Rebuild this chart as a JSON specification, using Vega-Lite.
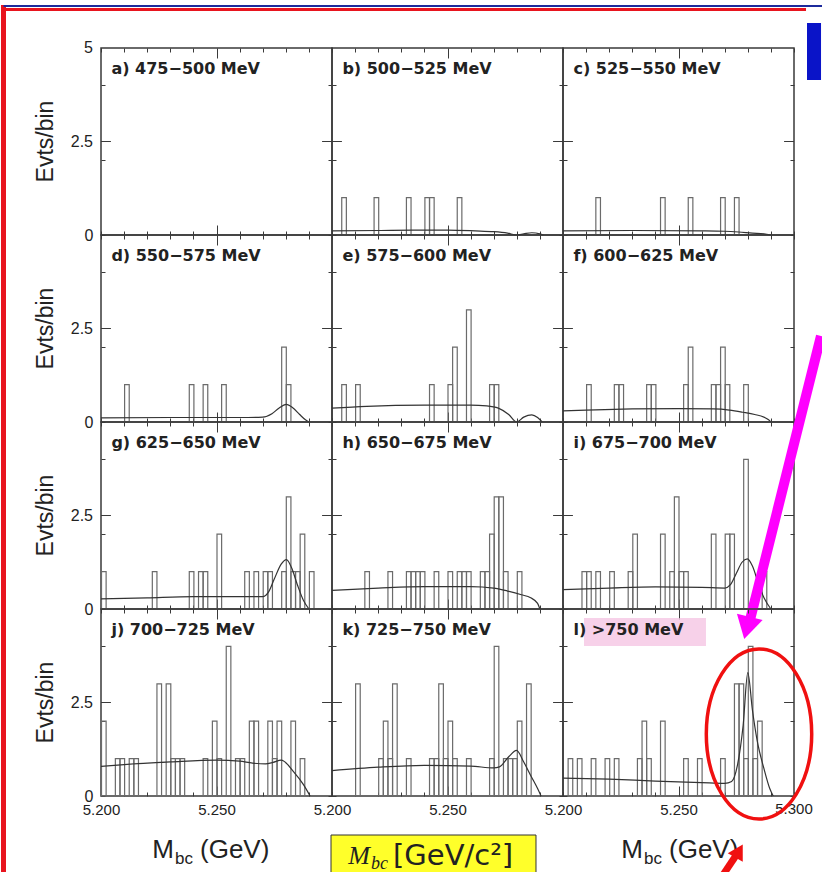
{
"$schema": "https://vega.github.io/schema/vega-lite/v6.json",
"padding": 0,
"autosize": {"type": "pad"},
"background": "white",
"data": {"values": [
{"p":"a","k":"t","lab":"a) 475−500 MeV"},
{"p":"b","k":"t","lab":"b) 500−525 MeV"},
{"p":"c","k":"t","lab":"c) 525−550 MeV"},
{"p":"d","k":"t","lab":"d) 550−575 MeV"},
{"p":"e","k":"t","lab":"e) 575−600 MeV"},
{"p":"f","k":"t","lab":"f) 600−625 MeV"},
{"p":"g","k":"t","lab":"g) 625−650 MeV"},
{"p":"h","k":"t","lab":"h)  650−675 MeV"},
{"p":"i","k":"t","lab":"i) 675−700 MeV"},
{"p":"j","k":"t","lab":"j) 700−725 MeV"},
{"p":"k","k":"t","lab":"k) 725−750 MeV"},
{"p":"l","k":"t","lab":"l) >750 MeV"},
{"p":"b","k":"h","x":5.204,"n":1},{"p":"b","k":"h","x":5.218,"n":1},{"p":"b","k":"h","x":5.232,"n":1},{"p":"b","k":"h","x":5.240,"n":1},{"p":"b","k":"h","x":5.242,"n":1},{"p":"b","k":"h","x":5.254,"n":1},
{"p":"c","k":"h","x":5.214,"n":1},{"p":"c","k":"h","x":5.242,"n":1},{"p":"c","k":"h","x":5.254,"n":1},{"p":"c","k":"h","x":5.268,"n":1},{"p":"c","k":"h","x":5.274,"n":1},
{"p":"d","k":"h","x":5.210,"n":1},{"p":"d","k":"h","x":5.238,"n":1},{"p":"d","k":"h","x":5.244,"n":1},{"p":"d","k":"h","x":5.252,"n":1},{"p":"d","k":"h","x":5.278,"n":2},{"p":"d","k":"h","x":5.280,"n":1},
{"p":"e","k":"h","x":5.204,"n":1},{"p":"e","k":"h","x":5.210,"n":1},{"p":"e","k":"h","x":5.242,"n":1},{"p":"e","k":"h","x":5.250,"n":1},{"p":"e","k":"h","x":5.252,"n":2},{"p":"e","k":"h","x":5.258,"n":3},{"p":"e","k":"h","x":5.268,"n":1},{"p":"e","k":"h","x":5.270,"n":1},
{"p":"f","k":"h","x":5.210,"n":1},{"p":"f","k":"h","x":5.222,"n":1},{"p":"f","k":"h","x":5.224,"n":1},{"p":"f","k":"h","x":5.236,"n":1},{"p":"f","k":"h","x":5.238,"n":1},{"p":"f","k":"h","x":5.252,"n":1},{"p":"f","k":"h","x":5.254,"n":2},{"p":"f","k":"h","x":5.264,"n":1},{"p":"f","k":"h","x":5.266,"n":1},{"p":"f","k":"h","x":5.268,"n":2},{"p":"f","k":"h","x":5.270,"n":1},{"p":"f","k":"h","x":5.278,"n":1},
{"p":"g","k":"h","x":5.200,"n":1},{"p":"g","k":"h","x":5.222,"n":1},{"p":"g","k":"h","x":5.238,"n":1},{"p":"g","k":"h","x":5.242,"n":1},{"p":"g","k":"h","x":5.244,"n":1},{"p":"g","k":"h","x":5.250,"n":2},{"p":"g","k":"h","x":5.262,"n":1},{"p":"g","k":"h","x":5.266,"n":1},{"p":"g","k":"h","x":5.270,"n":1},{"p":"g","k":"h","x":5.272,"n":1},{"p":"g","k":"h","x":5.278,"n":1},{"p":"g","k":"h","x":5.280,"n":3},{"p":"g","k":"h","x":5.282,"n":1},{"p":"g","k":"h","x":5.284,"n":1},{"p":"g","k":"h","x":5.286,"n":2},{"p":"g","k":"h","x":5.290,"n":1},
{"p":"h","k":"h","x":5.214,"n":1},{"p":"h","k":"h","x":5.224,"n":1},{"p":"h","k":"h","x":5.232,"n":1},{"p":"h","k":"h","x":5.234,"n":1},{"p":"h","k":"h","x":5.236,"n":1},{"p":"h","k":"h","x":5.238,"n":1},{"p":"h","k":"h","x":5.244,"n":1},{"p":"h","k":"h","x":5.250,"n":1},{"p":"h","k":"h","x":5.254,"n":1},{"p":"h","k":"h","x":5.256,"n":1},{"p":"h","k":"h","x":5.258,"n":1},{"p":"h","k":"h","x":5.264,"n":1},{"p":"h","k":"h","x":5.266,"n":1},{"p":"h","k":"h","x":5.268,"n":2},{"p":"h","k":"h","x":5.270,"n":3},{"p":"h","k":"h","x":5.272,"n":3},{"p":"h","k":"h","x":5.274,"n":1},{"p":"h","k":"h","x":5.280,"n":1},
{"p":"i","k":"h","x":5.208,"n":1},{"p":"i","k":"h","x":5.210,"n":1},{"p":"i","k":"h","x":5.214,"n":1},{"p":"i","k":"h","x":5.220,"n":1},{"p":"i","k":"h","x":5.228,"n":1},{"p":"i","k":"h","x":5.230,"n":2},{"p":"i","k":"h","x":5.242,"n":2},{"p":"i","k":"h","x":5.246,"n":1},{"p":"i","k":"h","x":5.248,"n":3},{"p":"i","k":"h","x":5.250,"n":1},{"p":"i","k":"h","x":5.252,"n":1},{"p":"i","k":"h","x":5.264,"n":2},{"p":"i","k":"h","x":5.270,"n":2},{"p":"i","k":"h","x":5.272,"n":2},{"p":"i","k":"h","x":5.278,"n":4},{"p":"i","k":"h","x":5.286,"n":1},
{"p":"j","k":"h","x":5.200,"n":2},{"p":"j","k":"h","x":5.206,"n":1},{"p":"j","k":"h","x":5.208,"n":1},{"p":"j","k":"h","x":5.212,"n":1},{"p":"j","k":"h","x":5.214,"n":1},{"p":"j","k":"h","x":5.224,"n":3},{"p":"j","k":"h","x":5.228,"n":3},{"p":"j","k":"h","x":5.230,"n":1},{"p":"j","k":"h","x":5.232,"n":1},{"p":"j","k":"h","x":5.234,"n":1},{"p":"j","k":"h","x":5.244,"n":1},{"p":"j","k":"h","x":5.248,"n":2},{"p":"j","k":"h","x":5.250,"n":1},{"p":"j","k":"h","x":5.254,"n":4},{"p":"j","k":"h","x":5.258,"n":1},{"p":"j","k":"h","x":5.260,"n":1},{"p":"j","k":"h","x":5.264,"n":2},{"p":"j","k":"h","x":5.266,"n":2},{"p":"j","k":"h","x":5.272,"n":2},{"p":"j","k":"h","x":5.274,"n":1},{"p":"j","k":"h","x":5.276,"n":2},{"p":"j","k":"h","x":5.282,"n":2},{"p":"j","k":"h","x":5.286,"n":1},
{"p":"k","k":"h","x":5.210,"n":3},{"p":"k","k":"h","x":5.220,"n":1},{"p":"k","k":"h","x":5.222,"n":2},{"p":"k","k":"h","x":5.224,"n":1},{"p":"k","k":"h","x":5.226,"n":3},{"p":"k","k":"h","x":5.232,"n":1},{"p":"k","k":"h","x":5.242,"n":1},{"p":"k","k":"h","x":5.244,"n":1},{"p":"k","k":"h","x":5.246,"n":3},{"p":"k","k":"h","x":5.248,"n":1},{"p":"k","k":"h","x":5.250,"n":2},{"p":"k","k":"h","x":5.252,"n":1},{"p":"k","k":"h","x":5.258,"n":1},{"p":"k","k":"h","x":5.268,"n":1},{"p":"k","k":"h","x":5.270,"n":4},{"p":"k","k":"h","x":5.274,"n":1},{"p":"k","k":"h","x":5.276,"n":1},{"p":"k","k":"h","x":5.278,"n":1},{"p":"k","k":"h","x":5.280,"n":2},{"p":"k","k":"h","x":5.284,"n":3},
{"p":"l","k":"h","x":5.202,"n":1},{"p":"l","k":"h","x":5.206,"n":1},{"p":"l","k":"h","x":5.212,"n":1},{"p":"l","k":"h","x":5.218,"n":1},{"p":"l","k":"h","x":5.222,"n":1},{"p":"l","k":"h","x":5.232,"n":1},{"p":"l","k":"h","x":5.234,"n":2},{"p":"l","k":"h","x":5.236,"n":1},{"p":"l","k":"h","x":5.242,"n":2},{"p":"l","k":"h","x":5.252,"n":1},{"p":"l","k":"h","x":5.258,"n":1},{"p":"l","k":"h","x":5.268,"n":1},{"p":"l","k":"h","x":5.274,"n":3},{"p":"l","k":"h","x":5.276,"n":3},{"p":"l","k":"h","x":5.278,"n":1},{"p":"l","k":"h","x":5.280,"n":4},{"p":"l","k":"h","x":5.282,"n":1},{"p":"l","k":"h","x":5.284,"n":2},
{"p":"b","k":"c","x":5.2,"n":0.11},{"p":"b","k":"c","x":5.22,"n":0.12},{"p":"b","k":"c","x":5.235,"n":0.13},{"p":"b","k":"c","x":5.25,"n":0.13},{"p":"b","k":"c","x":5.262,"n":0.11},{"p":"b","k":"c","x":5.27,"n":0.09},{"p":"b","k":"c","x":5.276,"n":0.05},{"p":"b","k":"c","x":5.28,"n":0},{"p":"b","k":"c","x":5.283,"n":0.03},{"p":"b","k":"c","x":5.2865,"n":0.06},{"p":"b","k":"c","x":5.29,"n":0.03},{"p":"b","k":"c","x":5.2915,"n":0},
{"p":"c","k":"c","x":5.2,"n":0.11},{"p":"c","k":"c","x":5.23,"n":0.12},{"p":"c","k":"c","x":5.26,"n":0.11},{"p":"c","k":"c","x":5.27,"n":0.1},{"p":"c","k":"c","x":5.276,"n":0.08},{"p":"c","k":"c","x":5.282,"n":0.05},{"p":"c","k":"c","x":5.287,"n":0.03},{"p":"c","k":"c","x":5.29,"n":0},
{"p":"d","k":"c","x":5.2,"n":0.11},{"p":"d","k":"c","x":5.23,"n":0.12},{"p":"d","k":"c","x":5.26,"n":0.12},{"p":"d","k":"c","x":5.27,"n":0.13},{"p":"d","k":"c","x":5.274,"n":0.22},{"p":"d","k":"c","x":5.277,"n":0.37},{"p":"d","k":"c","x":5.2802,"n":0.47},{"p":"d","k":"c","x":5.283,"n":0.38},{"p":"d","k":"c","x":5.286,"n":0.2},{"p":"d","k":"c","x":5.2885,"n":0.06},{"p":"d","k":"c","x":5.29,"n":0},
{"p":"e","k":"c","x":5.2,"n":0.37},{"p":"e","k":"c","x":5.215,"n":0.42},{"p":"e","k":"c","x":5.24,"n":0.45},{"p":"e","k":"c","x":5.26,"n":0.45},{"p":"e","k":"c","x":5.267,"n":0.43},{"p":"e","k":"c","x":5.272,"n":0.37},{"p":"e","k":"c","x":5.2765,"n":0.2},{"p":"e","k":"c","x":5.28,"n":0},{"p":"e","k":"c","x":5.283,"n":0.13},{"p":"e","k":"c","x":5.2865,"n":0.19},{"p":"e","k":"c","x":5.289,"n":0.12},{"p":"e","k":"c","x":5.291,"n":0},
{"p":"f","k":"c","x":5.2,"n":0.3},{"p":"f","k":"c","x":5.21,"n":0.32},{"p":"f","k":"c","x":5.23,"n":0.35},{"p":"f","k":"c","x":5.25,"n":0.36},{"p":"f","k":"c","x":5.265,"n":0.35},{"p":"f","k":"c","x":5.272,"n":0.32},{"p":"f","k":"c","x":5.278,"n":0.26},{"p":"f","k":"c","x":5.283,"n":0.2},{"p":"f","k":"c","x":5.287,"n":0.13},{"p":"f","k":"c","x":5.289,"n":0.06},{"p":"f","k":"c","x":5.29,"n":0},
{"p":"g","k":"c","x":5.2,"n":0.27},{"p":"g","k":"c","x":5.22,"n":0.3},{"p":"g","k":"c","x":5.24,"n":0.33},{"p":"g","k":"c","x":5.26,"n":0.33},{"p":"g","k":"c","x":5.27,"n":0.33},{"p":"g","k":"c","x":5.2725,"n":0.45},{"p":"g","k":"c","x":5.275,"n":0.8},{"p":"g","k":"c","x":5.278,"n":1.2},{"p":"g","k":"c","x":5.2803,"n":1.32},{"p":"g","k":"c","x":5.2825,"n":1.1},{"p":"g","k":"c","x":5.285,"n":0.65},{"p":"g","k":"c","x":5.2875,"n":0.25},{"p":"g","k":"c","x":5.29,"n":0},
{"p":"h","k":"c","x":5.2,"n":0.5},{"p":"h","k":"c","x":5.22,"n":0.56},{"p":"h","k":"c","x":5.24,"n":0.6},{"p":"h","k":"c","x":5.26,"n":0.6},{"p":"h","k":"c","x":5.27,"n":0.56},{"p":"h","k":"c","x":5.276,"n":0.48},{"p":"h","k":"c","x":5.282,"n":0.38},{"p":"h","k":"c","x":5.286,"n":0.3},{"p":"h","k":"c","x":5.289,"n":0.15},{"p":"h","k":"c","x":5.29,"n":0},
{"p":"i","k":"c","x":5.2,"n":0.52},{"p":"i","k":"c","x":5.22,"n":0.56},{"p":"i","k":"c","x":5.24,"n":0.59},{"p":"i","k":"c","x":5.26,"n":0.58},{"p":"i","k":"c","x":5.27,"n":0.56},{"p":"i","k":"c","x":5.2725,"n":0.65},{"p":"i","k":"c","x":5.275,"n":0.95},{"p":"i","k":"c","x":5.2775,"n":1.25},{"p":"i","k":"c","x":5.2798,"n":1.34},{"p":"i","k":"c","x":5.282,"n":1.15},{"p":"i","k":"c","x":5.2845,"n":0.7},{"p":"i","k":"c","x":5.287,"n":0.3},{"p":"i","k":"c","x":5.29,"n":0},
{"p":"j","k":"c","x":5.2,"n":0.79},{"p":"j","k":"c","x":5.21,"n":0.84},{"p":"j","k":"c","x":5.23,"n":0.91},{"p":"j","k":"c","x":5.25,"n":0.96},{"p":"j","k":"c","x":5.26,"n":0.93},{"p":"j","k":"c","x":5.2656,"n":0.88},{"p":"j","k":"c","x":5.2712,"n":0.86},{"p":"j","k":"c","x":5.2745,"n":0.9},{"p":"j","k":"c","x":5.278,"n":0.96},{"p":"j","k":"c","x":5.2835,"n":0.64},{"p":"j","k":"c","x":5.2878,"n":0.29},{"p":"j","k":"c","x":5.2905,"n":0},
{"p":"k","k":"c","x":5.2,"n":0.68},{"p":"k","k":"c","x":5.22,"n":0.77},{"p":"k","k":"c","x":5.24,"n":0.82},{"p":"k","k":"c","x":5.26,"n":0.8},{"p":"k","k":"c","x":5.27,"n":0.75},{"p":"k","k":"c","x":5.2725,"n":0.78},{"p":"k","k":"c","x":5.2765,"n":1.05},{"p":"k","k":"c","x":5.2799,"n":1.22},{"p":"k","k":"c","x":5.283,"n":0.91},{"p":"k","k":"c","x":5.286,"n":0.55},{"p":"k","k":"c","x":5.289,"n":0.2},{"p":"k","k":"c","x":5.2905,"n":0},
{"p":"l","k":"c","x":5.2,"n":0.48},{"p":"l","k":"c","x":5.22,"n":0.45},{"p":"l","k":"c","x":5.24,"n":0.4},{"p":"l","k":"c","x":5.26,"n":0.36},{"p":"l","k":"c","x":5.27,"n":0.34},{"p":"l","k":"c","x":5.273,"n":0.39},{"p":"l","k":"c","x":5.2755,"n":0.82},{"p":"l","k":"c","x":5.278,"n":1.9},{"p":"l","k":"c","x":5.28,"n":3.3},{"p":"l","k":"c","x":5.282,"n":2.3},{"p":"l","k":"c","x":5.284,"n":1.5},{"p":"l","k":"c","x":5.287,"n":0.73},{"p":"l","k":"c","x":5.2895,"n":0.2},{"p":"l","k":"c","x":5.291,"n":0}
]},
"facet": {"field": "p", "type": "nominal", "header": {"title": null, "labels": false, "labelExpr": "''", "labelFontSize": 1, "labelColor": "transparent", "labelPadding": 0}},
"columns": 3,
"spacing": 0,
"bounds": "flush",
"spec": {"width": 231, "height": 187, "layer": [
{"transform": [{"filter": "datum.k=='t' && datum.p=='l'"}], "mark": {"type": "rect", "fill": "#f4c2e2", "opacity": 0.75},
 "encoding": {"x": {"datum": 5.20909}, "x2": {"datum": 5.2619}, "y": {"datum": 4.76}, "y2": {"datum": 4.01}}},
{"transform": [{"filter": "datum.k=='t' && datum.p=='k'"}], "mark": {"type": "rect", "fill": "#ffff2a", "stroke": "#333", "strokeWidth": 1},
 "encoding": {"x": {"datum": 5.19957}, "x2": {"datum": 5.28831}, "y": {"datum": -1.043}, "y2": {"datum": -2.139}}},
{"transform": [{"filter": "datum.k=='h'"}], "mark": {"type": "bar", "fillOpacity": 0, "stroke": "#6b6b6b", "strokeWidth": 1.2, "binSpacing": 0},
 "encoding": {
  "x": {"field": "x", "type": "quantitative", "bin": {"binned": true, "step": 0.002}, "scale": {"domain": [5.2, 5.3], "nice": false, "zero": false},
   "axis": {"title": null, "values": [5.2,5.21,5.22,5.23,5.24,5.25,5.26,5.27,5.28,5.29,5.3], "format": ".3f", "labelExpr": "datum.label=='5.200'||datum.label=='5.250'?datum.label:''", "grid": true, "gridDash": {"condition": {"test": "abs(datum.value-5.25)<0.001", "value": [10,167,10,1000]}, "value": [4,179,4,1000]}, "labelFontSize": 15, "labelPadding": 6, "labelOverlap": false, "labelFlush": false}},
  "y": {"field": "n", "type": "quantitative", "stack": null, "scale": {"domain": [0, 5], "nice": false},
   "axis": {"title": null, "values": [0,0.5,1,1.5,2,2.5,3,3.5,4,4.5,5], "format": ".1f", "labelExpr": "datum.label=='0.0'?'0':''", "grid": true, "gridDash": [4,223,4,1000], "labelFontSize": 16, "labelPadding": 8, "labelOverlap": false, "labelFlush": false}}}},
{"transform": [{"filter": "datum.k=='c'"}], "mark": {"type": "line", "color": "#333", "strokeWidth": 1.2, "interpolate": "monotone"},
 "encoding": {"x": {"field": "x", "type": "quantitative"}, "y": {"field": "n", "type": "quantitative"}}},
{"transform": [{"filter": "datum.k=='t'"}], "mark": {"type": "rule", "color": "#3a3a3a", "strokeWidth": 1},
 "encoding": {"x": {"datum": 5.2}, "x2": {"datum": 5.2043}, "y": {"datum": 2.5}}},
{"transform": [{"filter": "datum.k=='t'"}], "mark": {"type": "rule", "color": "#3a3a3a", "strokeWidth": 1},
 "encoding": {"x": {"datum": 5.2957}, "x2": {"datum": 5.3}, "y": {"datum": 2.5}}},
{"transform": [{"filter": "datum.k=='t'"}], "mark": {"type": "text", "align": "left", "baseline": "middle", "fontSize": 16, "fontWeight": "bold", "font": "DejaVu Sans", "color": "#222"},
 "encoding": {"x": {"datum": 5.2045}, "y": {"datum": 4.45}, "text": {"field": "lab"}}},
{"transform": [{"filter": "datum.k=='t' && datum.p=='a'"}], "mark": {"type": "text", "align": "right", "baseline": "middle", "fontSize": 16, "dx": -8, "color": "#222"},
 "encoding": {"x": {"datum": 5.2}, "y": {"datum": 5}, "text": {"value": "5"}}},
{"transform": [{"filter": "datum.k=='t' && indexof('adgj', datum.p) >= 0"}], "mark": {"type": "text", "align": "right", "baseline": "middle", "fontSize": 16, "dx": -8, "color": "#222"},
 "encoding": {"x": {"datum": 5.2}, "y": {"datum": 2.5}, "text": {"value": "2.5"}}},
{"transform": [{"filter": "datum.k=='t' && indexof('adgj', datum.p) >= 0"}], "mark": {"type": "text", "align": "center", "baseline": "middle", "fontSize": 23, "angle": 270, "color": "#222"},
 "encoding": {"x": {"datum": 5.17619}, "y": {"datum": 2.5}, "text": {"value": "Evts/bin"}}},
{"transform": [{"filter": "datum.k=='t' && datum.p=='l'"}], "mark": {"type": "text", "align": "center", "baseline": "top", "fontSize": 15, "dy": 6, "color": "#222"},
 "encoding": {"x": {"datum": 5.3}, "y": {"datum": 0}, "text": {"value": "5.300"}}},
{"transform": [{"filter": "datum.k=='t' && datum.p=='a'"}], "mark": {"type": "rule", "color": "#e8141e", "strokeWidth": 5},
 "encoding": {"x": {"datum": 5.15779}, "y": {"datum": 6.15}, "y2": {"datum": -17.2}}},
{"transform": [{"filter": "datum.k=='t' && datum.p=='a'"}], "mark": {"type": "rule", "color": "#e8141e", "strokeWidth": 3},
 "encoding": {"x": {"datum": 5.15779}, "x2": {"datum": 5.5052}, "y": {"datum": 6.03}}},
{"transform": [{"filter": "datum.k=='t' && datum.p=='a'"}], "mark": {"type": "rule", "color": "#1c2a9c", "strokeWidth": 2},
 "encoding": {"x": {"datum": 5.15779}, "x2": {"datum": 5.5126}, "y": {"datum": 6.123}}},
{"transform": [{"filter": "datum.k=='t' && datum.p=='j'"}], "mark": {"type": "text", "align": "right", "baseline": "alphabetic", "fontSize": 26, "dy": 62, "color": "#222"},
 "encoding": {"x": {"datum": 5.2316}, "y": {"datum": 0}, "text": {"value": "M"}}},
{"transform": [{"filter": "datum.k=='t' && datum.p=='j'"}], "mark": {"type": "text", "align": "left", "baseline": "alphabetic", "fontSize": 17, "dy": 68, "color": "#222"},
 "encoding": {"x": {"datum": 5.23203}, "y": {"datum": 0}, "text": {"value": "bc"}}},
{"transform": [{"filter": "datum.k=='t' && datum.p=='j'"}], "mark": {"type": "text", "align": "left", "baseline": "alphabetic", "fontSize": 26, "dy": 62, "color": "#222"},
 "encoding": {"x": {"datum": 5.24286}, "y": {"datum": 0}, "text": {"value": "(GeV)"}}},
{"transform": [{"filter": "datum.k=='t' && datum.p=='l'"}], "mark": {"type": "text", "align": "right", "baseline": "alphabetic", "fontSize": 26, "dy": 62, "color": "#222"},
 "encoding": {"x": {"datum": 5.23463}, "y": {"datum": 0}, "text": {"value": "M"}}},
{"transform": [{"filter": "datum.k=='t' && datum.p=='l'"}], "mark": {"type": "text", "align": "left", "baseline": "alphabetic", "fontSize": 17, "dy": 68, "color": "#222"},
 "encoding": {"x": {"datum": 5.23506}, "y": {"datum": 0}, "text": {"value": "bc"}}},
{"transform": [{"filter": "datum.k=='t' && datum.p=='l'"}], "mark": {"type": "text", "align": "left", "baseline": "alphabetic", "fontSize": 26, "dy": 62, "color": "#222"},
 "encoding": {"x": {"datum": 5.24589}, "y": {"datum": 0}, "text": {"value": "(GeV)"}}},
{"transform": [{"filter": "datum.k=='t' && datum.p=='k'"}], "mark": {"type": "text", "align": "right", "baseline": "alphabetic", "fontSize": 26, "font": "Liberation Serif", "fontStyle": "italic", "dy": 68, "color": "#222"},
 "encoding": {"x": {"datum": 5.21645}, "y": {"datum": 0}, "text": {"value": "M"}}},
{"transform": [{"filter": "datum.k=='t' && datum.p=='k'"}], "mark": {"type": "text", "align": "left", "baseline": "alphabetic", "fontSize": 18, "font": "Liberation Serif", "fontStyle": "italic", "dy": 73, "color": "#222"},
 "encoding": {"x": {"datum": 5.21688}, "y": {"datum": 0}, "text": {"value": "bc"}}},
{"transform": [{"filter": "datum.k=='t' && datum.p=='k'"}], "mark": {"type": "text", "align": "left", "baseline": "alphabetic", "fontSize": 29, "font": "DejaVu Sans", "dy": 69, "color": "#222"},
 "encoding": {"x": {"datum": 5.22641}, "y": {"datum": 0}, "text": {"value": "[GeV/c²]"}}},
{"transform": [{"filter": "datum.k=='t' && datum.p=='l'"}], "mark": {"type": "point", "shape": "M0,-1A0.62,1 0 1,1 0,1A0.62,1 0 1,1 0,-1Z", "size": 28900, "filled": false, "stroke": "#f01010", "strokeWidth": 3.5, "opacity": 1},
 "encoding": {"x": {"datum": 5.28485}, "y": {"datum": 1.658}}},
{"transform": [{"filter": "datum.k=='t' && datum.p=='i'"}], "mark": {"type": "rule", "color": "#ff00ff", "strokeWidth": 10},
 "encoding": {"x": {"datum": 5.31169}, "y": {"datum": 7.3}, "x2": {"datum": 5.28052}, "y2": {"datum": -0.401}}},
{"transform": [{"filter": "datum.k=='t' && datum.p=='i'"}], "mark": {"type": "point", "shape": "triangle-down", "size": 700, "filled": true, "color": "#ff00ff", "opacity": 1, "angle": 14},
 "encoding": {"x": {"datum": 5.27965}, "y": {"datum": -0.508}}},
{"transform": [{"filter": "datum.k=='t' && datum.p=='l'"}], "mark": {"type": "rule", "color": "#f01010", "strokeWidth": 7},
 "encoding": {"x": {"datum": 5.2684}, "y": {"datum": -2.19}, "x2": {"datum": 5.27532}, "y2": {"datum": -1.55}}},
{"transform": [{"filter": "datum.k=='t' && datum.p=='l'"}], "mark": {"type": "point", "shape": "triangle-up", "size": 300, "filled": true, "color": "#f01010", "opacity": 1, "angle": 30},
 "encoding": {"x": {"datum": 5.2762}, "y": {"datum": -1.47}}},
{"transform": [{"filter": "datum.k=='t' && datum.p=='c'"}], "mark": {"type": "rect", "fill": "#0a14c8"},
 "encoding": {"x": {"datum": 5.30563}, "x2": {"datum": 5.3117}, "y": {"datum": 5.668}, "y2": {"datum": 4.144}}}
]},
"config": {
 "view": {"stroke": "#3a3a3a", "strokeWidth": 1.5},
 "axis": {"labelFont": "Liberation Sans", "labelColor": "#222", "gridColor": "#3a3a3a", "gridOpacity": 1, "gridWidth": 1, "ticks": false, "domain": false},
 "header": {"labels": false, "title": null},
 "headerFacet": {"labels": false, "title": null},
 "text": {"font": "Liberation Sans"}
}
}
